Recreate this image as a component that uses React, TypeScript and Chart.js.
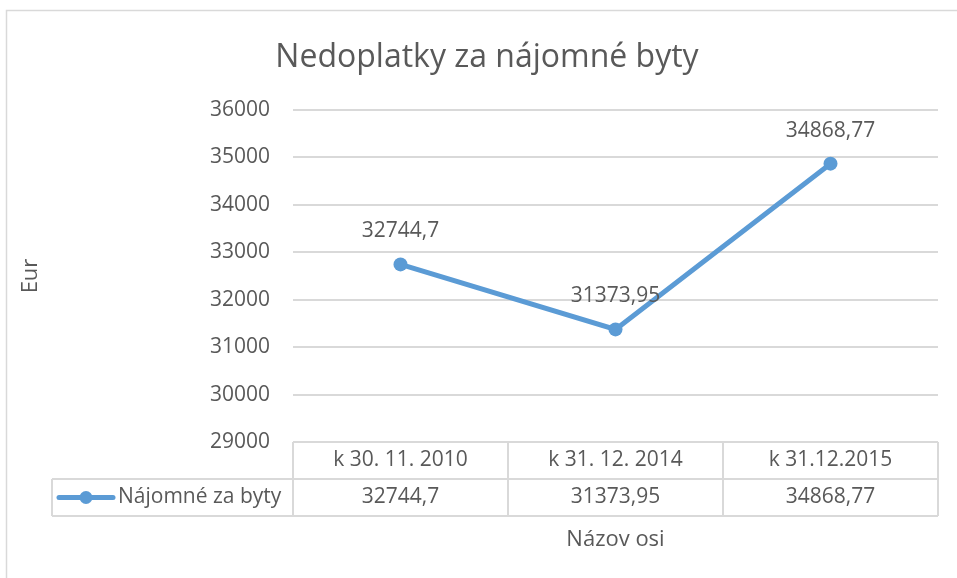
import React, { useEffect, useRef } from "react";
import { Chart, registerables } from "chart.js";

Chart.register(...registerables);

const chartTitle = "Nedoplatky za nájomné byty";
const categories = ["k 30. 11. 2010", "k 31. 12. 2014", "k 31.12.2015"];
const seriesName = "Nájomné za byty";
const values = [32744.7, 31373.95, 34868.77];
const valueLabels = ["32744,7", "31373,95", "34868,77"];
const yAxisTitle = "Eur";
const xAxisTitle = "Názov osi";
const yMin = 29000;
const yMax = 36000;
const yStep = 1000;

const FONT = "'Open Sans', 'Noto Sans', sans-serif";
const TEXT = "#595959";
const GRID = "#d9d9d9";
const BLUE = "#5b9bd5";

const excelPlugin = {
  id: "excelExtras",
  afterDraw(chart: any) {
    const ctx = chart.ctx as CanvasRenderingContext2D;
    const area = chart.chartArea;
    const xs = chart.scales.x;
    const meta = chart.getDatasetMeta(0);
    ctx.save();

    // outer chart border
    ctx.strokeStyle = GRID;
    ctx.lineWidth = 1.5;
    ctx.strokeRect(6.5, 10.5, 2000, 2000);

    // title
    ctx.fillStyle = TEXT;
    ctx.font = `32px ${FONT}`;
    ctx.textAlign = "center";
    ctx.textBaseline = "middle";
    ctx.fillText(chartTitle, 487, 58);

    // data labels
    ctx.font = `21px ${FONT}`;
    meta.data.forEach((pt: any, i: number) => {
      ctx.fillText(valueLabels[i], pt.x, pt.y - 33);
    });

    // data table
    const rowH = 37;
    const top = area.bottom;
    const mid = top + rowH;
    const bot = mid + rowH;
    const legendLeft = 52;
    const colW = (area.right - area.left) / categories.length;
    ctx.strokeStyle = GRID;
    ctx.lineWidth = 2;
    ctx.beginPath();
    ctx.moveTo(area.left, top);
    ctx.lineTo(area.right, top);
    ctx.moveTo(legendLeft, mid);
    ctx.lineTo(area.right, mid);
    ctx.moveTo(legendLeft, bot);
    ctx.lineTo(area.right, bot);
    ctx.moveTo(legendLeft, mid);
    ctx.lineTo(legendLeft, bot);
    for (let i = 0; i <= categories.length; i++) {
      const x = area.left + i * colW;
      ctx.moveTo(x, top);
      ctx.lineTo(x, bot);
    }
    ctx.stroke();

    ctx.fillStyle = TEXT;
    ctx.font = `21px ${FONT}`;
    ctx.textAlign = "center";
    categories.forEach((c, i) => {
      const cx = xs.getPixelForValue(i);
      ctx.fillText(c, cx, (top + mid) / 2);
      ctx.fillText(valueLabels[i], cx, (mid + bot) / 2);
    });

    // legend key in the table
    const ly = (mid + bot) / 2;
    ctx.strokeStyle = BLUE;
    ctx.lineWidth = 5;
    ctx.lineCap = "round";
    ctx.beginPath();
    ctx.moveTo(59, ly);
    ctx.lineTo(113, ly);
    ctx.stroke();
    ctx.fillStyle = BLUE;
    ctx.beginPath();
    ctx.arc(86, ly, 6.5, 0, Math.PI * 2);
    ctx.fill();
    ctx.fillStyle = TEXT;
    ctx.textAlign = "left";
    ctx.fillText(seriesName, 118, ly);

    // x axis title
    ctx.textAlign = "center";
    ctx.font = `22px ${FONT}`;
    ctx.fillText(xAxisTitle, (area.left + area.right) / 2, 540);

    ctx.restore();
  },
};

export default function App() {
  const ref = useRef<HTMLCanvasElement>(null);
  useEffect(() => {
    if (!ref.current) return;
    const chart = new Chart(ref.current, {
      type: "line",
      data: {
        labels: categories,
        datasets: [
          {
            label: seriesName,
            data: values,
            borderColor: BLUE,
            backgroundColor: BLUE,
            borderWidth: 5,
            pointRadius: 7,
            pointBorderWidth: 0,
            pointBackgroundColor: BLUE,
            tension: 0,
          },
        ],
      },
      options: {
        responsive: false,
        animation: false,
        devicePixelRatio: 1,
        layout: { padding: { left: 0, right: 19, top: 110, bottom: 136 } },
        plugins: {
          legend: { display: false },
          title: { display: false },
          tooltip: { enabled: false },
        },
        scales: {
          x: {
            type: "category",
            offset: true,
            display: false,
          },
          y: {
            min: yMin,
            max: yMax,
            afterFit: (scale: any) => {
              scale.width = 293;
            },
            ticks: {
              stepSize: yStep,
              color: TEXT,
              font: { family: FONT, size: 21 },
              padding: 23,
              callback: (v: any) => String(v),
            },
            grid: { color: GRID, lineWidth: 2, drawTicks: false },
            border: { display: false },
            title: {
              display: true,
              text: yAxisTitle,
              color: TEXT,
              font: { family: FONT, size: 22 },
              padding: { top: 18, bottom: 0 },
            },
          },
        },
      },
      plugins: [excelPlugin],
    });
    return () => chart.destroy();
  }, []);
  return (
    <div style={{ position: "fixed", left: 0, top: 0, width: 957, height: 578, background: "#fff" }}>
      <canvas ref={ref} width={957} height={578} style={{ display: "block" }} />
    </div>
  );
}
